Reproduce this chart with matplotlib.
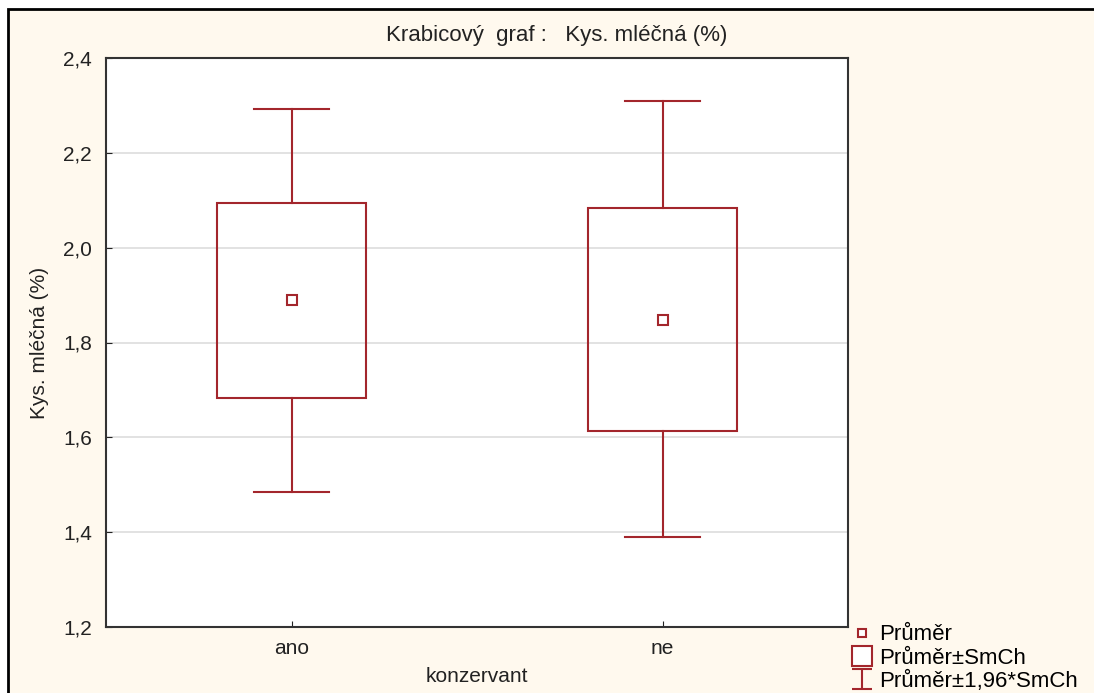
import matplotlib
matplotlib.use("Agg")
import matplotlib.pyplot as plt
from matplotlib.patches import Rectangle
from matplotlib.lines import Line2D
from matplotlib.path import Path
from matplotlib.ticker import FuncFormatter

plt.rcParams['font.family'] = ['Liberation Sans', 'DejaVu Sans']

# data
groups = ['ano', 'ne']
means = [1.889, 1.848]
box_lo = [1.683, 1.614]
box_hi = [2.095, 2.083]
whisk_lo = [1.485, 1.390]
whisk_hi = [2.293, 2.310]

col = '#a3262c'
bg = '#fff9ee'
W, H = 1094, 693

fig = plt.figure(figsize=(W / 100, H / 100), dpi=100)
fig.patch.set_facecolor('white')
# cream panel with black frame, running off the right and bottom edges
fig.patches.append(Rectangle((8 / W, -0.05), 1.1, 1 - 9 / H + 0.05,
                             transform=fig.transFigure, facecolor=bg,
                             edgecolor='black', linewidth=2, zorder=-10))

ax = fig.add_axes([106 / W, 1 - 627 / H, 742 / W, 569 / H])
ax.set_facecolor('white')
for s in ax.spines.values():
    s.set_color('#333333')
    s.set_linewidth(1.5)

xs = list(range(1, len(groups) + 1))
bw = 0.4
cw = 0.2
for x, m, bl, bh, wl, wh in zip(xs, means, box_lo, box_hi, whisk_lo, whisk_hi):
    ax.add_patch(Rectangle((x - bw / 2, bl), bw, bh - bl, facecolor='none',
                           edgecolor=col, linewidth=1.5, zorder=3))
    ax.plot([x, x], [bh, wh], color=col, lw=1.5, zorder=3)
    ax.plot([x, x], [wl, bl], color=col, lw=1.5, zorder=3)
    ax.plot([x - cw / 2, x + cw / 2], [wh, wh], color=col, lw=1.5, zorder=3)
    ax.plot([x - cw / 2, x + cw / 2], [wl, wl], color=col, lw=1.5, zorder=3)
    ax.plot(x, m, marker='s', ms=7, mfc='white', mec=col, mew=1.5, zorder=4)

ax.set_xlim(0.5, len(groups) + 0.5)
ax.set_ylim(1.2, 2.4)
ax.set_xticks(xs)
ax.set_xticklabels(groups)
ax.set_yticks([1.2, 1.4, 1.6, 1.8, 2.0, 2.2, 2.4])
ax.yaxis.set_major_formatter(FuncFormatter(lambda v, p: f'{v:.1f}'.replace('.', ',')))
ax.tick_params(direction='in', length=4, labelsize=15, colors='#222222', pad=9)
ax.tick_params(axis='y', pad=10)
ax.grid(axis='y', color='#dddddd', lw=1.2, zorder=0)
ax.set_axisbelow(True)

ax.set_xlabel('konzervant', fontsize=15, labelpad=6, color='#222222')
ax.set_ylabel('Kys. mléčná (%)', fontsize=15, labelpad=10, color='#222222')
fig.text(557 / W, 1 - 35 / H, 'Krabicový  graf :   Kys. mléčná (%)', fontsize=16,
         ha='center', va='center', color='#222222')

ibar = Path([(-1, 1), (1, 1), (0, 1), (0, -1), (-1, -1), (1, -1)],
            [Path.MOVETO, Path.LINETO, Path.MOVETO, Path.LINETO, Path.MOVETO, Path.LINETO])
handles = [
    Line2D([], [], ls='none', marker='s', ms=6, mfc='white', mec=col, mew=1.5),
    Line2D([], [], ls='none', marker='s', ms=14, mfc='white', mec=col, mew=1.5),
    Line2D([], [], ls='none', marker=ibar, ms=14, mec=col, mew=1.5),
]
labels = ['Průměr', 'Průměr±SmCh', 'Průměr±1,96*SmCh']
fig.legend(handles, labels, loc='upper left', bbox_to_anchor=(845 / W, 1 - 620 / H),
           frameon=False, fontsize=16, handlelength=1.1, handletextpad=0.25,
           labelspacing=0.1, borderpad=0.2, borderaxespad=0)

fig.savefig('out.png', dpi=100, facecolor=fig.get_facecolor())
